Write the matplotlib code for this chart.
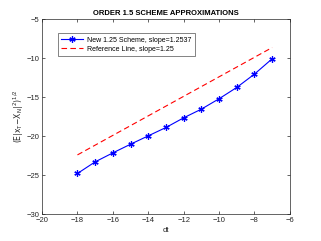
import matplotlib
matplotlib.use("Agg")
import matplotlib.pyplot as plt

dt = [-18, -17, -16, -15, -14, -13, -12, -11, -10, -9, -8, -7]
err = [-24.78, -23.29, -22.14, -21.03, -19.96, -18.89, -17.65, -16.54, -15.21, -13.76, -12.05, -10.09]
ref_x = [-18, -7]
ref_y = [-22.4, -8.65]
xticks = [-20, -18, -16, -14, -12, -10, -8, -6]
yticks = [-30, -25, -20, -15, -10, -5]

plt.rcParams['font.family'] = ['Liberation Sans', 'DejaVu Sans']
fig = plt.figure(figsize=(3.21, 2.41), dpi=100)
ax = fig.add_axes([0.131, 0.111, 0.772, 0.81])
ax.plot(dt, err, color='#0000ff', marker=(6, 2, 0), markersize=4.5, markeredgewidth=0.9,
        linewidth=0.8, label='New 1.25 Scheme, slope=1.2537')
ax.plot(ref_x, ref_y, color='#ff0000', linestyle=(0, (5, 3)), linewidth=0.8,
        label='Reference Line, slope=1.25')
ax.set_xlim(-20, -6)
ax.set_ylim(-30, -5)
ax.set_xticks(xticks)
ax.set_yticks(yticks)
ax.tick_params(direction='in', length=2.5, width=0.5, labelsize=5.5, colors='#262626',
               top=True, right=True, pad=2)
for s in ax.spines.values():
    s.set_linewidth(0.5)
    s.set_color('#262626')
ax.set_xlabel('dt', fontsize=5.5, labelpad=2, color='#262626')
ax.set_ylabel(r'$(\mathrm{E}|\mathrm{x}_\mathrm{T}\mathrm{-X}_\mathrm{N}|^2)^{1/2}$', fontsize=5.5,
              labelpad=0.5, color='#262626')
ax.set_title('ORDER 1.5 SCHEME APPROXIMATIONS', fontsize=5.5, fontweight='bold', pad=3)
leg = ax.legend(loc='upper left', bbox_to_anchor=(0.063, 0.927), borderaxespad=0, fontsize=5,
                frameon=True, fancybox=False, edgecolor='#262626', handlelength=3.2,
                borderpad=0.5, labelspacing=0.3, handletextpad=0.5)
leg.get_frame().set_linewidth(0.5)
fig.savefig('out.png', dpi=100)
